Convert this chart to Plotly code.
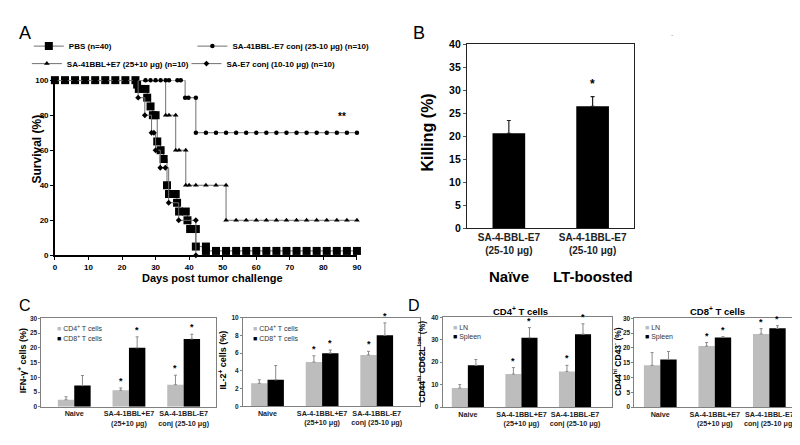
import plotly.graph_objects as go

W, H = 800, 445
FONT = "Arial, 'Liberation Sans', sans-serif"


def PX(x):
    return x / W


def PY(y):
    return 1 - y / H


# ---------------- Panel A : survival ----------------
pbs_days = [0, 3, 6, 9, 12, 15, 18, 21, 24,
            24.5, 25, 27, 27.5, 28.5, 29.2, 30, 30.5, 31.5, 32.4, 33.4, 34, 36, 36.4, 37, 39, 39.5, 40.3, 42, 42, 45, 45,
            48, 51, 54, 57, 60, 63, 66, 69, 72, 75, 78, 81, 84, 87, 90]
pbs_surv = [100] * 9 + [97.5, 95, 95, 90, 85, 80, 80, 65, 60, 55, 40, 35, 35, 30, 25, 25, 20, 15, 15, 5, 5, 2.5] + [2.5] * 15

conj_days = [0, 3, 6, 9, 12, 15, 18, 21, 24, 27, 28.5, 30, 31.5, 33, 34, 36.5, 37.5,
             38.8, 39.8, 42,
             42, 45, 48, 51, 54, 57, 60, 63, 66, 69, 72, 75, 78, 81, 84, 87, 90]
conj_surv = [100] * 17 + [90, 90, 90] + [70] * 17

mix_days = [0, 3, 6, 9, 12, 15, 18, 21, 24, 27, 30,
            33, 34, 36, 36, 37, 39, 39, 40, 42, 45, 48, 51,
            51, 54, 57, 60, 63, 66, 69, 72, 75, 78, 81, 84, 87, 90]
mix_surv = [100] * 11 + [80, 80, 80] + [60, 60, 60] + [40] * 6 + [20] * 14

e7_days = [0, 3, 6, 9, 12, 15, 18, 21, 24, 24.8, 26.8, 28.8, 29.5, 30, 31.4, 32.9, 33.9, 36.9, 42, 42]
e7_surv = [100] * 9 + [90, 80, 70, 70, 60, 50, 50, 30, 20, 20, 0]

surv_names = ["PBS (n=40)", "SA-41BBL-E7 conj (25-10 μg) (n=10)",
              "SA-41BBL+E7 (25+10 μg) (n=10)", "SA-E7 conj (10-10 μg) (n=10)"]
a_xticks = [0, 10, 20, 30, 40, 50, 60, 70, 80, 90]
a_yticks = [0, 20, 40, 60, 80, 100]

# ---------------- Panel B : killing ----------------
b_cats = ["SA-4-BBL-E7<br>(25-10 μg)", "SA-4-1BBL-E7<br>(25-10 μg)"]
b_groups = ["Naïve", "LT-boosted"]
b_kill = [20.6, 26.5]
b_err = [2.8, 2.1]

# ---------------- Panels C / D ----------------
cd_cats = ["Naive", "SA-4-1BBL+E7<br>(25+10 μg)", "SA-4-1BBL-E7<br>conj (25-10 μg)"]
sig = [0, 1, 1]

ifn_cd4 = [2.4, 5.6, 7.5]
ifn_cd4_err = [1.0, 0.8, 3.2]
ifn_cd8 = [7.2, 20.0, 23.0]
ifn_cd8_err = [3.4, 3.7, 1.6]

il2_cd4 = [2.6, 5.0, 5.8]
il2_cd4_err = [0.4, 0.7, 0.4]
il2_cd8 = [3.0, 6.0, 8.0]
il2_cd8_err = [1.6, 0.35, 1.4]

cd4m_ln = [8.5, 14.7, 15.9]
cd4m_ln_err = [1.5, 2.9, 2.7]
cd4m_sp = [18.6, 30.9, 32.5]
cd4m_sp_err = [2.6, 4.5, 4.6]

cd8m_ln = [14.1, 20.6, 24.7]
cd8m_ln_err = [4.3, 1.2, 1.8]
cd8m_sp = [16.1, 23.5, 26.6]
cd8m_sp_err = [2.7, 0.3, 0.9]

GRAY = "#bdbdbd"
BLACK = "#000000"

fig = go.Figure()

# ---- A traces
a_specs = [
    (pbs_days, pbs_surv, "square", 8, "legend"),
    (conj_days, conj_surv, "circle", 4.5, "legend2"),
    (mix_days, mix_surv, "triangle-up", 5, "legend3"),
    (e7_days, e7_surv, "diamond", 4.5, "legend4"),
]
order = [0, 2, 1, 3]
for i in order:
    d, s, sym, sz, lg = a_specs[i]
    fig.add_trace(go.Scatter(
        x=d, y=s, name=surv_names[i], mode="lines+markers",
        line=dict(shape="hv", color="#707070", width=1),
        marker=dict(symbol=sym, size=sz, color=BLACK),
        xaxis="x", yaxis="y", legend=lg, cliponaxis=False))

# ---- B trace
fig.add_trace(go.Bar(
    x=b_cats, y=b_kill, width=0.39, marker=dict(color=BLACK, line=dict(width=0)),
    error_y=dict(type="data", array=b_err, arrayminus=[0, 0], symmetric=False,
                 color="#222", thickness=1.2, width=2),
    xaxis="x2", yaxis="y2", showlegend=False))

# ---- C / D bar traces
panels = [
    ("x3", "y3", ifn_cd4, ifn_cd4_err, ifn_cd8, ifn_cd8_err,
     "CD4<sup>+</sup> T cells", "CD8<sup>+</sup> T cells", 45, 323),
    ("x4", "y4", il2_cd4, il2_cd4_err, il2_cd8, il2_cd8_err,
     "CD4<sup>+</sup> T cells", "CD8<sup>+</sup> T cells", 243, 323),
    ("x5", "y5", cd4m_ln, cd4m_ln_err, cd4m_sp, cd4m_sp_err, "LN", "Spleen", 445, 322),
    ("x6", "y6", cd8m_ln, cd8m_ln_err, cd8m_sp, cd8m_sp_err, "LN", "Spleen", 639, 322),
]
for xa, ya, v1, e1, v2, e2, n1, n2, lx, ly in panels:
    for v, e, col, nm in ((v1, e1, GRAY, n1), (v2, e2, BLACK, n2)):
        fig.add_trace(go.Bar(
            x=cd_cats, y=v, name=nm, marker=dict(color=col, line=dict(width=0)),
            error_y=dict(type="data", array=e, arrayminus=[0] * len(e), symmetric=False,
                         color="#8a8a8a", thickness=1, width=1.5),
            xaxis=xa, yaxis=ya, showlegend=False))

# ---------------- layout ----------------
ann = []


def text(x, y, t, size, bold=True, angle=0, color="#000", xanchor="center", yanchor="middle"):
    ann.append(dict(x=PX(x), y=PY(y), xref="paper", yref="paper", text=t, showarrow=False,
                    textangle=angle, xanchor=xanchor, yanchor=yanchor,
                    font=dict(family=FONT, size=size, color=color, weight="bold" if bold else "normal")))


text(15, 20, "A", 18, bold=False)
text(413, 20, "B", 18, bold=False)
text(15, 300, "C", 16, bold=False)
text(408, 300, "D", 16, bold=False)
text(27, 138.5, "Survival (%)", 12, angle=-90)
text(204.5, 271, "Days post tumor challenge", 11)
text(421.5, 122, "Killing (%)", 16, angle=-90)
text(668, 21, "-", 7, bold=False, color="#999")
text(13, 356, "IFN-γ<sup>+</sup> cells (%)", 9, angle=-90)
text(215, 356, "IL-2<sup>+</sup> cells (%)", 9, angle=-90)
text(415, 357, "CD44<sup>hi</sup> CD62L<sup>low</sup> (%)", 8.5, angle=-90)
text(613, 357, "CD44<sup>hi</sup> CD43<sup>-</sup> (%)", 8.5, angle=-90)
text(515, 305, "CD4<sup>+</sup> T cells", 9.5)
text(714, 305, "CD8<sup>+</sup> T cells", 9.5)

# key rows for panels C / D (swatch glyph + label)
for xa, ya, v1, e1, v2, e2, n1, n2, lx, ly in panels:
    for k, (nm, col) in enumerate(((n1, GRAY), (n2, BLACK))):
        text(lx, ly + 10 * k,
             "<span style='color:%s'>■</span> %s" % (col, nm),
             7, bold=False, color="#333", xanchor="left")

# ** in A
ann.append(dict(x=85.5, y=79, xref="x", yref="y", text="**", showarrow=False,
                font=dict(family=FONT, size=10, weight="bold")))
# B group labels and star
for i, g in enumerate(b_groups):
    ann.append(dict(x=i, y=PY(270), xref="x2", yref="paper", text=g, showarrow=False,
                    font=dict(family=FONT, size=15, weight="bold")))
ann.append(dict(x=1, y=b_kill[1] + b_err[1], xref="x2", yref="y2", text="*", showarrow=False,
                yanchor="bottom", yshift=4, font=dict(family=FONT, size=12, weight="bold")))
# stars C/D
for xa, ya, v1, e1, v2, e2, *_ in panels:
    for off, v, e in ((-0.15, v1, e1), (0.15, v2, e2)):
        for i in range(3):
            if sig[i]:
                ann.append(dict(x=i + off, y=v[i] + e[i], xref=xa, yref=ya, text="*", showarrow=False,
                                yanchor="bottom", yshift=0,
                                font=dict(family=FONT, size=9, weight="bold")))

layout = dict(
    width=W, height=H, margin=dict(l=0, r=0, t=0, b=0),
    paper_bgcolor="white", plot_bgcolor="white",
    font=dict(family=FONT, color="#000"),
    barmode="group", bargap=0.4, bargroupgap=0,
    annotations=ann,
)

# axis A
layout["xaxis"] = dict(domain=[PX(45.3), PX(350)], range=[0, 90], tickvals=a_xticks,
                       showline=True, linecolor="#000", linewidth=1.5, ticks="outside", ticklen=3,
                       tickcolor="#000", showgrid=False, zeroline=False, anchor="y",
                       tickfont=dict(size=8, weight="bold"))
layout["yaxis"] = dict(domain=[PY(248), PY(68)], range=[0, 100], tickvals=a_yticks,
                       showline=True, linecolor="#000", linewidth=1.5, ticks="outside", ticklen=3,
                       tickcolor="#000", showgrid=False, zeroline=False, anchor="x",
                       tickfont=dict(size=8, weight="bold"))
# axis B
layout["xaxis2"] = dict(domain=[PX(461), PX(630)], range=[-0.5, 1.5], type="category", tickangle=0,
                        showline=True, mirror=True, linecolor="#222", linewidth=1.2, ticks="",
                        showgrid=False, zeroline=False, anchor="y2",
                        tickfont=dict(size=10, weight="bold", color="#222"))
layout["yaxis2"] = dict(domain=[PY(220), PY(31)], range=[0, 40], dtick=5,
                        showline=True, mirror=True, linecolor="#222", linewidth=1.2, ticks="outside",
                        ticklen=3, tickcolor="#555", showgrid=False, zeroline=False, anchor="x2",
                        tickfont=dict(size=10.5, weight="bold"))

cd_geo = [
    ("xaxis3", "yaxis3", "x3", "y3", 31.7, 208.3, [-0.6, 2.6], 403.7, 312.7, 30, 5),
    ("xaxis4", "yaxis4", "x4", "y4", 235, 414, [-0.45, 2.8], 403.3, 312.0, 10, 2),
    ("xaxis5", "yaxis5", "x5", "y5", 436.5, 607, [-0.47, 2.685], 404, 311.7, 40, 10),
    ("xaxis6", "yaxis6", "x6", "y6", 630, 796, [-0.473, 2.545], 404, 312.7, 30, 5),
]
for xk, yk, xs, ys, x0, x1, xr, yb, yt, ymax, dt in cd_geo:
    layout[xk] = dict(domain=[PX(x0), PX(x1)], range=xr, type="category", tickangle=0,
                      showline=True, mirror=True, linecolor="#808080", linewidth=1, ticks="",
                      showgrid=False, zeroline=False, anchor=ys,
                      tickfont=dict(size=7.2, weight="bold", color="#222"))
    layout[yk] = dict(domain=[PY(yb), PY(yt)], range=[0, ymax], dtick=dt,
                      showline=True, mirror=True, linecolor="#808080", linewidth=1, ticks="outside",
                      ticklen=2, tickcolor="#808080", showgrid=False, zeroline=False, anchor=xs,
                      tickfont=dict(size=6.5, weight="bold", color="#222"))


def leg(tx, ty, size):
    return dict(x=PX(tx - 48), y=PY(ty), xanchor="left", yanchor="middle", bgcolor="rgba(0,0,0,0)",
                borderwidth=0, tracegroupgap=0,
                font=dict(family=FONT, size=size, color="#000", weight="bold"))


layout["legend"] = leg(67, 33, 8)
layout["legend2"] = leg(232, 33, 8)
layout["legend3"] = leg(65, 51, 8)
layout["legend4"] = leg(226, 51, 8)

fig.update_layout(**layout)
fig.write_html("out.html")
